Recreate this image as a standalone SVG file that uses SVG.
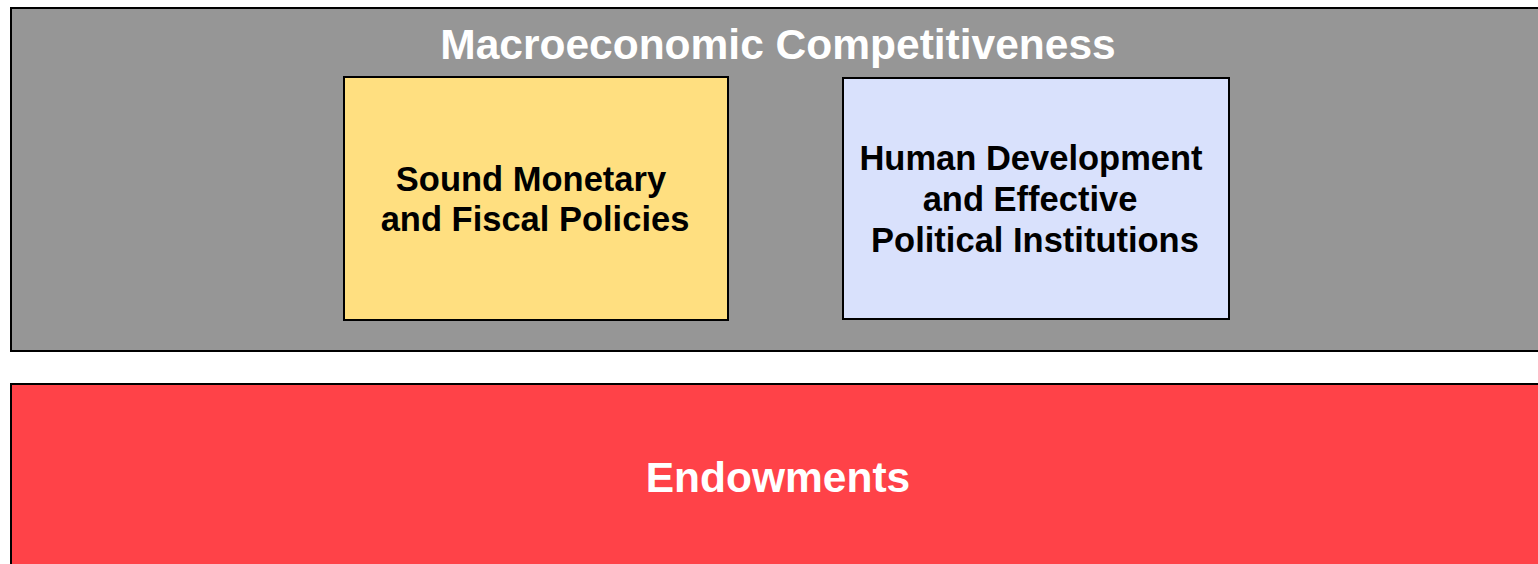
<svg xmlns="http://www.w3.org/2000/svg" width="1538" height="564" viewBox="0 0 1538 564">
<style>
.box{stroke:#000;stroke-width:2}
.w{fill:#fff;font-family:"Liberation Sans",Arial,sans-serif;font-weight:bold;font-size:42.5px;text-anchor:middle}
.b{fill:#000;font-family:"Liberation Sans",Arial,sans-serif;font-weight:bold;font-size:34.5px;text-anchor:middle}
</style>
<rect width="1538" height="564" fill="#fff"/>
<g id="macro">
<rect class="box" x="11" y="8" width="1540" height="343" fill="#969696"/>
<text class="w" x="778" y="59">Macroeconomic Competitiveness</text>
</g>
<g id="sound">
<rect class="box" x="344" y="77" width="384" height="243" fill="#FFDF80"/>
<text class="b" x="531" y="191">Sound Monetary</text>
<text class="b" x="535" y="231">and Fiscal Policies</text>
</g>
<g id="human">
<rect class="box" x="843" y="78" width="386" height="241" fill="#D9E1FC"/>
<text class="b" x="1031" y="170">Human Development</text>
<text class="b" x="1030" y="211">and Effective</text>
<text class="b" x="1035" y="252">Political Institutions</text>
</g>
<g id="endowments">
<rect class="box" x="11" y="384" width="1540" height="200" fill="#FF4248"/>
<text class="w" x="778" y="492">Endowments</text>
</g>
<g id="connectors"></g>
</svg>
